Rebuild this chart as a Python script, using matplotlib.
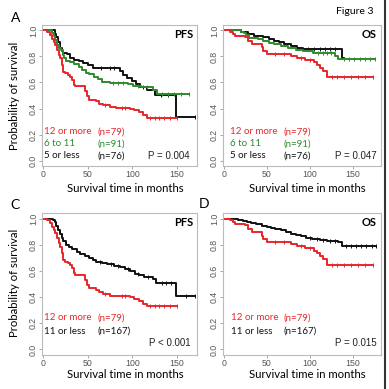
import bisect

import matplotlib
matplotlib.use("Agg")
import matplotlib.pyplot as plt
from matplotlib.lines import Line2D

RED = "#e8262a"
GREEN = "#2e8b2e"
BLACK = "#111111"

# Kaplan-Meier curves: event times and survival after each step
pfs_hi_t = [0, 5, 8, 10, 12, 14, 16, 18, 19, 21, 22, 23, 25, 28, 30, 33, 35, 36, 47, 49, 52, 60, 63, 67, 75, 82, 98, 102, 108, 112, 116]
pfs_hi_s = [1.0, 0.987, 0.962, 0.937, 0.911, 0.886, 0.848, 0.81, 0.785, 0.734, 0.709, 0.684, 0.671, 0.658, 0.646, 0.62, 0.582, 0.57, 0.532, 0.494, 0.468, 0.455, 0.438, 0.425, 0.412, 0.405, 0.398, 0.385, 0.37, 0.35, 0.33]
pfs_hi_end = 150
pfs_hi_cens = [70, 88, 92, 120, 125, 130, 136, 142, 150]

pfs_mid_t = [0, 10, 12, 14, 16, 18, 20, 22, 24, 26, 30, 35, 40, 44, 48, 52, 57, 62, 66, 75, 95, 101, 110, 123, 128]
pfs_mid_s = [1.0, 0.978, 0.956, 0.923, 0.89, 0.868, 0.846, 0.813, 0.79, 0.768, 0.755, 0.742, 0.72, 0.697, 0.675, 0.662, 0.64, 0.626, 0.607, 0.597, 0.588, 0.575, 0.565, 0.545, 0.51]
pfs_mid_end = 164
pfs_mid_cens = [78, 84, 90, 106, 116, 133, 140, 147, 155, 164]

pfs_lo_t = [0, 13, 15, 17, 19, 21, 23, 27, 30, 35, 40, 45, 50, 56, 86, 90, 94, 100, 104, 109, 116, 125, 149]
pfs_lo_s = [1.0, 0.974, 0.947, 0.908, 0.868, 0.842, 0.829, 0.816, 0.789, 0.776, 0.762, 0.748, 0.735, 0.714, 0.685, 0.66, 0.635, 0.61, 0.59, 0.565, 0.54, 0.505, 0.337]
pfs_lo_end = 170
pfs_lo_cens = [65, 75, 80, 112, 132, 140, 170]

pfs_11_t = [0, 11, 13, 15, 17, 19, 21, 23, 26, 29, 33, 38, 42, 47, 52, 56, 60, 66, 72, 80, 86, 92, 98, 103, 108, 113, 123, 127, 149]
pfs_11_s = [1.0, 0.988, 0.97, 0.94, 0.91, 0.88, 0.85, 0.83, 0.80, 0.78, 0.765, 0.745, 0.73, 0.715, 0.70, 0.685, 0.67, 0.66, 0.65, 0.64, 0.63, 0.615, 0.60, 0.58, 0.565, 0.55, 0.535, 0.505, 0.405]
pfs_11_end = 170
pfs_11_cens = [64, 76, 84, 95, 106, 118, 133, 138, 143, 160, 170]

os_hi_t = [0, 7, 11, 13, 25, 28, 33, 44, 46, 50, 78, 85, 95, 105, 109, 112, 116, 120]
os_hi_s = [1.0, 0.987, 0.974, 0.961, 0.948, 0.922, 0.896, 0.87, 0.844, 0.818, 0.803, 0.788, 0.772, 0.755, 0.735, 0.712, 0.69, 0.643]
os_hi_end = 174
os_hi_cens = [60, 70, 90, 100, 126, 132, 140, 148, 156, 164, 174]

os_mid_t = [0, 20, 23, 26, 29, 40, 45, 52, 58, 66, 75, 84, 92, 104, 130, 133]
os_mid_s = [1.0, 0.989, 0.977, 0.966, 0.943, 0.931, 0.92, 0.906, 0.893, 0.88, 0.867, 0.853, 0.84, 0.826, 0.805, 0.782]
os_mid_end = 176
os_mid_cens = [110, 115, 120, 125, 140, 146, 152, 158, 164, 170, 176]

os_lo_t = [0, 20, 28, 35, 45, 52, 58, 64, 70, 78, 85, 92, 138]
os_lo_s = [1.0, 0.987, 0.974, 0.961, 0.947, 0.934, 0.921, 0.908, 0.895, 0.882, 0.868, 0.855, 0.79]
os_lo_end = 140
os_lo_cens = [98, 105, 112, 118, 124, 130]

os_11_t = [0, 11, 16, 22, 27, 32, 38, 44, 50, 55, 60, 66, 72, 78, 84, 90, 96, 103, 112, 120, 127, 133, 138]
os_11_s = [1.0, 0.994, 0.988, 0.982, 0.975, 0.963, 0.956, 0.944, 0.937, 0.925, 0.918, 0.91, 0.898, 0.885, 0.872, 0.865, 0.852, 0.845, 0.838, 0.832, 0.826, 0.818, 0.79]
os_11_end = 177
os_11_cens = [100, 108, 116, 124, 130, 142, 148, 154, 160, 166, 172, 177]

labels_3 = ["12 or more", "6 to 11", "5 or less"]
counts_3 = ["(n=79)", "(n=91)", "(n=76)"]
labels_2 = ["12 or more", "11 or less"]
counts_2 = ["(n=79)", "(n=167)"]
p_values = ["P = 0.004", "P = 0.047", "P < 0.001", "P = 0.015"]

W = H = 389
fig = plt.figure(figsize=(W / 100, H / 100), dpi=100)
fig.patch.set_facecolor("white")

ANN = ["Lato", "DejaVu Sans"]
TICK = ["Liberation Sans", "DejaVu Sans"]


def px_axes(left, top, right, bottom):
    return fig.add_axes([left / W, 1 - bottom / H, (right - left) / W, (bottom - top) / H])


def ftext(x, y, s, **kw):
    fig.text(x / W, 1 - y / H, s, **kw)


def km(ax, t, s, end, cens, color):
    ax.step(list(t) + [end], list(s) + [s[-1]], where="post", color=color, lw=1.4)
    # censoring ticks sit on the curve value at that time
    cy = [s[bisect.bisect_right(t, c) - 1] for c in cens]
    ax.plot(cens, cy, ls="none", marker="|", ms=3, mew=0.7, color=color)


def style(ax, xmax):
    ax.set_xlim(-1, xmax)
    ax.set_ylim(-0.042, 1.042)
    ax.set_xticks([0, 50, 100, 150])
    ax.set_yticks([0, 0.2, 0.4, 0.6, 0.8, 1.0])
    ax.set_yticklabels(["0.0", "0.2", "0.4", "0.6", "0.8", "1.0"], rotation=90, va="center")
    for sp in ax.spines.values():
        sp.set_color("#bbbbbb")
        sp.set_linewidth(0.8)
    ax.tick_params(length=2, width=0.6, color="#999999", labelcolor="#555555",
                   labelsize=6.3, pad=0.8)
    for lab in ax.get_xticklabels() + ax.get_yticklabels():
        lab.set_family(TICK)


# A: PFS three groups
ax = px_axes(42, 25, 197, 166)
km(ax, pfs_lo_t, pfs_lo_s, pfs_lo_end, pfs_lo_cens, BLACK)
km(ax, pfs_mid_t, pfs_mid_s, pfs_mid_end, pfs_mid_cens, GREEN)
km(ax, pfs_hi_t, pfs_hi_s, pfs_hi_end, pfs_hi_cens, RED)
style(ax, 172.5)

# B: OS three groups
ax = px_axes(223, 25, 381, 166)
km(ax, os_lo_t, os_lo_s, os_lo_end, os_lo_cens, BLACK)
km(ax, os_mid_t, os_mid_s, os_mid_end, os_mid_cens, GREEN)
km(ax, os_hi_t, os_hi_s, os_hi_end, os_hi_cens, RED)
style(ax, 183)

# C: PFS two groups
ax = px_axes(42, 213, 197, 355)
km(ax, pfs_11_t, pfs_11_s, pfs_11_end, pfs_11_cens, BLACK)
km(ax, pfs_hi_t, pfs_hi_s, pfs_hi_end, pfs_hi_cens, RED)
style(ax, 172.5)

# D: OS two groups
ax = px_axes(223, 213, 381, 355)
km(ax, os_11_t, os_11_s, os_11_end, os_11_cens, BLACK)
km(ax, os_hi_t, os_hi_s, os_hi_end, os_hi_cens, RED)
style(ax, 183)

# annotation text
cols3 = [RED, GREEN, BLACK]
cols2 = [RED, BLACK]
for x0, xn in [(44, 98), (230, 283)]:
    for i in range(3):
        ftext(x0, 132 + 12 * i, labels_3[i], color=cols3[i], fontsize=7, family=ANN, va="center")
        ftext(xn, 132 + 12 * i, counts_3[i], color=cols3[i], fontsize=7, family=ANN, va="center")
for x0, xn in [(44, 98), (231, 284)]:
    for i in range(2):
        ftext(x0, 318 + 13 * i, labels_2[i], color=cols2[i], fontsize=7, family=ANN, va="center")
        ftext(xn, 318 + 13 * i, counts_2[i], color=cols2[i], fontsize=7, family=ANN, va="center")

ftext(190, 156, p_values[0], fontsize=7, family=TICK, ha="right", va="center", color="#222222")
ftext(377, 156, p_values[1], fontsize=7, family=TICK, ha="right", va="center", color="#222222")
ftext(191, 343, p_values[2], fontsize=7, family=TICK, ha="right", va="center", color="#222222")
ftext(377, 343, p_values[3], fontsize=7, family=TICK, ha="right", va="center", color="#222222")

for x, y, s in [(193, 35, "PFS"), (377, 34, "OS"), (193, 222, "PFS"), (377, 222, "OS")]:
    ftext(x, y, s, fontsize=8, fontweight="bold", family=ANN, ha="right", va="center")

for xc, y in [(125, 189), (307, 189), (125, 374), (307, 374)]:
    ftext(xc, y, "Survival time in months", fontsize=8.2, family=ANN, ha="center", va="center")
for y in [96, 283]:
    ftext(15, y, "Probability of survival", fontsize=8.2, family=ANN, rotation=90,
          ha="center", va="center")

ftext(11, 18, "A", fontsize=10, family=ANN, va="center")
ftext(10, 205, "C", fontsize=10, family=ANN, va="center")
ftext(199, 204, "D", fontsize=10, family=ANN, va="center")
ftext(355, 12, "Figure 3", fontsize=7.5, family=ANN, ha="center", va="center")

fig.add_artist(Line2D([385 / W, 385 / W], [0, 1], color="#333333", lw=1.5,
                      transform=fig.transFigure))

fig.savefig("out.png", dpi=100, facecolor="white")
